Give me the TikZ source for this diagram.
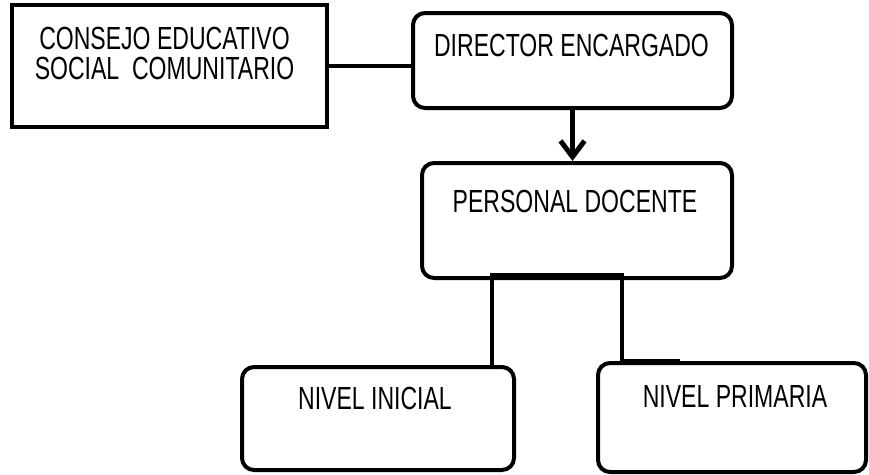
\documentclass[tikz,border=0pt]{standalone}
\usepackage{fontspec}
\newfontfamily\orgfont{Liberation Sans}[FakeStretch=0.72]
\usetikzlibrary{arrows.meta}
\usetikzlibrary{positioning}

\tikzset{
	unit/.style={draw, line width=4pt, inner sep=0pt},
	board/.style={unit},
	office/.style={unit, rounded corners=12pt},
	boxtext/.style={font=\orgfont\fontsize{32}{30}\selectfont, inner sep=0pt, align=center},
	link/.style={line width=3.6pt},
	order/.style={line width=5pt, -{Straight Barb[length=16pt,width=24pt]}}
}

\begin{document}
\begin{tikzpicture}[x=1pt,y=-1pt]
	\useasboundingbox (0,0) rectangle (869,474);
	% boxes
	\node[board, minimum width=315pt, minimum height=122pt] (consejo) at (169.5,66) {};
	\node[office, minimum width=319pt, minimum height=95pt] (director) at (572.5,60.5) {};
	\node[office, minimum width=310pt, minimum height=115pt] (personal) at (577,220.5) {};
	\node[office, minimum width=272pt, minimum height=103pt] (inicial) at (378,418.5) {};
	\node[office, minimum width=268pt, minimum height=109pt] (primaria) at (732,417.5) {};
	
	% texts
	\node[boxtext, below=24pt of consejo.north, xshift=-5pt] (consejoText) {CONSEJO EDUCATIVO\\SOCIAL\ \ COMUNITARIO};
	\node[boxtext, below=23pt of director.north, xshift=-1pt] (directorText) {DIRECTOR ENCARGADO};
	\node[boxtext, below=29pt of personal.north, xshift=-2pt] (personalText) {PERSONAL DOCENTE};
	\node[boxtext, below=22pt of inicial.north, xshift=-3pt] (inicialText) {NIVEL INICIAL};
	\node[boxtext, below=24pt of primaria.north, xshift=3pt] (primariaText) {NIVEL PRIMARIA};
	
	% connectors
	\coordinate (forkL) at (492,274.5);
	\coordinate (forkR) at (622,274.5);
	\coordinate (tabEnd) at (680,360.5);
	\draw[link] (consejo.east) -- (consejo.east -| director.west);
	\draw[order] (director.south) -- (director.south |- personal.north);
	\draw[link] (inicial.north -| forkL) -- (forkL) -- (forkR) -- (forkR |- tabEnd) -- (tabEnd);
\end{tikzpicture}
\end{document}
